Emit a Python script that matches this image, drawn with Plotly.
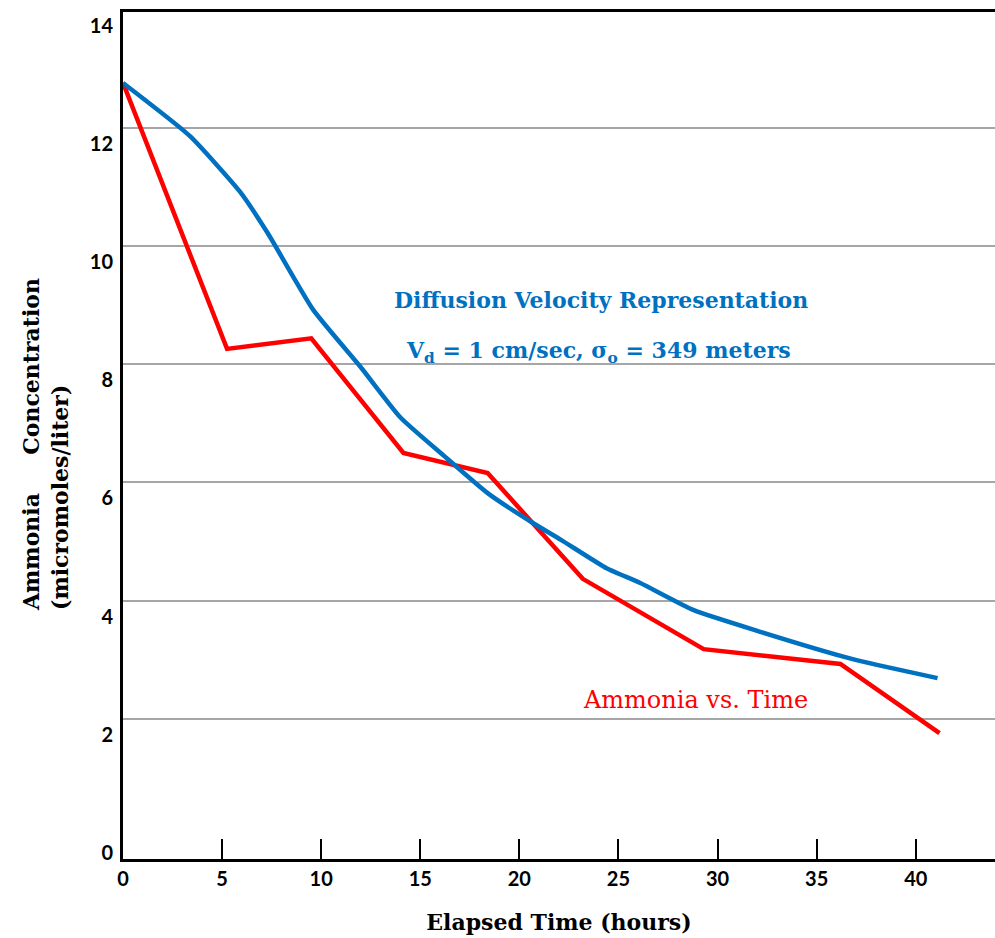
import plotly.graph_objects as go

# Data
red_x = [0, 5.25, 9.5, 14.15, 18.4, 23.2, 29.3, 36.2, 41.2]
red_y = [12.76, 8.26, 8.44, 6.5, 6.16, 4.37, 3.18, 2.93, 1.76]

blue_x = [0, 3.38, 5.9, 7.3, 9.6, 12.0, 14.0, 16.2, 18.4, 20.7, 22.1, 24.4, 26.1, 28.8, 32.2, 36.4, 38.1, 41.1]
blue_y = [12.76, 11.86, 10.92, 10.22, 8.92, 7.95, 7.1, 6.45, 5.82, 5.31, 5.03, 4.55, 4.30, 3.84, 3.47, 3.05, 2.91, 2.69]

x_ticks = [0, 5, 10, 15, 20, 25, 30, 35, 40]
y_grid = [2, 4, 6, 8, 10, 12]
y_ticks = [0, 2, 4, 6, 8, 10, 12, 14]

BLUE = "#0070C0"
RED = "#FF0000"
SERIF = "DejaVu Serif"
SANS = "Lato"

fig = go.Figure()
fig.add_trace(go.Scatter(x=red_x, y=red_y, mode="lines",
                         line=dict(color=RED, width=4.5), showlegend=False))
fig.add_trace(go.Scatter(x=blue_x, y=blue_y, mode="lines",
                         line=dict(color=BLUE, width=4.5, shape="spline", smoothing=0.5),
                         showlegend=False))

y_range = [-0.37, 13.96]
label_shift = 0.27

fig.update_layout(
    width=995, height=938,
    margin=dict(l=123, r=0, t=12, b=79),
    plot_bgcolor="white", paper_bgcolor="white",
    xaxis=dict(range=[0, 44], tickvals=x_ticks, ticktext=[str(v) for v in x_ticks],
               ticks="inside", ticklen=20, tickwidth=2, tickcolor="black",
               showline=True, linecolor="black", linewidth=2.5, mirror=True,
               showgrid=False, zeroline=False,
               tickfont=dict(family=SANS, size=20, color="black", weight="bold"),
               title=dict(text="Elapsed Time (hours)", standoff=26,
                          font=dict(family=SERIF, size=22, color="black", weight="bold"))),
    yaxis=dict(range=y_range, tickvals=y_grid, showticklabels=False,
               showgrid=True, gridcolor="#A6A6A6", gridwidth=2,
               showline=True, linecolor="black", linewidth=2.5,
               zeroline=False, ticks=""),
    yaxis2=dict(range=[y_range[0] + label_shift, y_range[1] + label_shift],
                overlaying="y", side="left", tickvals=y_ticks,
                ticktext=[str(v) for v in y_ticks], showgrid=False, zeroline=False,
                showline=False, ticks="", ticklabelstandoff=9,
                tickfont=dict(family=SANS, size=20, color="black", weight="bold")),
)

# invisible trace to activate yaxis2
fig.add_trace(go.Scatter(x=[None], y=[None], yaxis="y2", showlegend=False, hoverinfo="skip"))

fig.add_annotation(
    text="Ammonia\u00a0\u00a0\u00a0\u00a0\u00a0Concentration<br>(micromoles/liter)",
    textangle=-90, align="left", showarrow=False,
    xref="paper", yref="paper", x=(45 - 123) / 872, y=(859 - 445) / 847,
    xanchor="center", yanchor="middle",
    font=dict(family=SERIF, size=22, color="black", weight="bold"))

fig.add_annotation(text="Diffusion Velocity Representation", x=24.1, y=9.09,
                   showarrow=False, font=dict(family=SERIF, size=22, color=BLUE, weight="bold"))
fig.add_annotation(text="V<sub>d</sub> = 1 cm/sec, σ<sub>o</sub> = 349 meters", x=24.0, y=8.21,
                   showarrow=False, font=dict(family=SERIF, size=22, color=BLUE, weight="bold"))
fig.add_annotation(text="Ammonia vs. Time", x=28.9, y=2.32,
                   showarrow=False, font=dict(family=SERIF, size=24, color=RED))

fig.write_html("out.html")
